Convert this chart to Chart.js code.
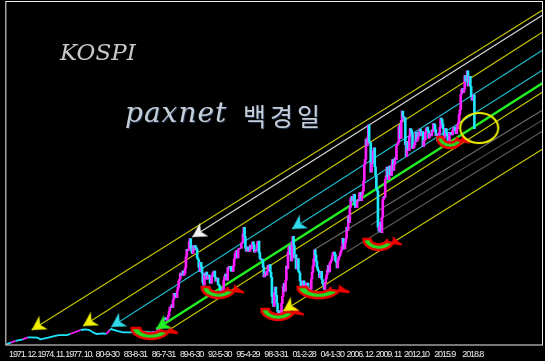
<!DOCTYPE html>
<html>
<head>
<meta charset="utf-8">
<script src="https://cdn.jsdelivr.net/npm/chart.js@4.4.0/dist/chart.umd.min.js"></script>
<style>
  html, body { margin: 0; padding: 0; background: #000; }
  #wrap { width: 545px; height: 361px; }
</style>
</head>
<body>
<div id="wrap"><canvas id="kospiChart"></canvas></div>
<script>
// early index (sparse)
const earlyDates = ['1970-04','1970-09','1971-03','1971-12','1972-06','1972-10','1973-06','1973-10','1974-02','1974-09',
  '1975-03','1975-09','1976-07','1976-11','1977-06','1977-12','1978-06','1978-11','1979-04','1979-08',
  '1980-04','1980-08','1980-12','1981-02','1981-09','1982-05','1983-05','1984-06','1984-12'];
const earlyClose = [28,40,58,71,90,90,87,71,77,90,102,111,111,121,142,158,164,158,133,121,127,121,158,167,149,136,136,142,140];

// monthly closes from 1985-01 to 2018-10
const monthlyStart = '1985-01';
const monthlyClose = [
  139,138,136,137,140,140,137,139,140,144,149,163,        // 1985
  160,165,188,212,220,236,256,264,270,253,250,272,        // 1986
  294,333,369,374,392,368,441,498,497,484,458,525,        // 1987
  557,616,633,687,668,679,708,666,684,735,838,907,        // 1988
  895,904,980,1007,922,883,867,942,903,943,923,909,       // 1989
  828,811,742,702,786,745,687,597,575,684,666,696,        // 1990
  630,660,669,659,594,594,653,680,699,706,650,611,        // 1991
  624,640,582,571,548,510,519,481,539,622,655,678,        // 1992
  659,622,737,734,749,747,708,702,702,755,818,866,        // 1993
  886,897,828,906,916,920,919,964,974,1051,1113,1027,     // 1994
  918,891,931,908,888,890,948,915,948,977,950,882,        // 1995
  888,903,901,978,984,877,823,809,818,802,742,651,        // 1996
  677,696,668,704,759,745,766,696,647,470,407,376,        // 1997
  506,558,481,407,331,297,339,310,310,406,470,562,        // 1998
  591,518,618,752,727,883,931,943,857,800,980,1028,       // 1999
  943,828,860,725,731,822,705,688,613,514,526,504,        // 2000
  615,583,523,577,594,595,541,545,479,537,633,693,        // 2001
  752,819,904,855,796,742,717,703,646,668,703,627,        // 2002
  591,575,535,599,634,670,717,759,697,778,796,810,        // 2003
  849,880,883,862,803,785,735,807,835,846,873,896,        // 2004
  932,1011,965,911,970,1008,1112,1084,1221,1158,1297,1379,      // 2005
  1399,1355,1357,1419,1317,1295,1297,1352,1371,1364,1432,1434,  // 2006
  1360,1417,1452,1542,1700,1744,1933,1873,1946,2064,1906,1897,  // 2007
  1624,1711,1704,1825,1852,1674,1594,1474,1448,1113,1076,1124,  // 2008
  1162,1063,1206,1369,1395,1390,1557,1591,1673,1580,1555,1682,  // 2009
  1602,1594,1692,1741,1641,1698,1759,1742,1872,1882,1904,2051,  // 2010
  2069,1939,2106,2192,2142,2100,2133,1880,1769,1909,1847,1825,  // 2011
  1955,2030,2014,1981,1843,1854,1880,1905,1996,1912,1932,1997,  // 2012
  1961,2026,2005,1963,2001,1863,1914,1926,1996,2030,2044,2011,  // 2013
  1941,1980,1985,1961,2017,2002,2076,2068,2020,1964,1981,1916,  // 2014
  1949,1985,2041,2127,2114,2074,2030,1941,1963,2029,1992,1961,  // 2015
  1912,1917,1996,1994,1983,1970,2016,2034,2043,2008,1983,2026,  // 2016
  2067,2091,2160,2205,2347,2392,2402,2363,2394,2523,2476,2467,  // 2017
  2566,2427,2445,2515,2423,2326,2295,2322,2343,2029             // 2018
];

const tickDates = ['1971-12','1974-11','1977-10','1980-09','1983-08','1986-07','1989-06','1992-05','1995-04',
  '1998-03','2001-02','2004-01','2006-12','2009-11','2012-10','2015-09','2018-08'];
const tickLabels = ['1971. 12.','1974. 11.','1977. 10.','80-9-30','83-8-31','86-7-31','89-6-30','92-5-30','95-4-29',
  '98-3-31','01-2-28','04-1-30','2006. 12.','2009. 11','2012,10','2015.9','2018.8'];

// parallel channel lines (start / end in date + index level)
const channelKinds = ['yellow','white','yellow','cyan','cyan','green','yellow','gray','gray2','gray3','yellow'];
const channelStartDates = ['1972-11','1989-07','1978-03','1981-02','1999-11','1985-10','1986-12','2002-02','2008-01','2005-07','1998-12'];
const channelStartLevels = [158,1022,195,186,1097,167,149,901,1134,883,334];
const channelEndDate = '2025-11';
const channelEndLevels = [3132,3085,2928,2760,2574,2454,2370,2203,2110,2007,1840];
const arrowChannels = [0,1,2,3,4,5,10];

// turning-point marks and the circle
const bowlDates = ['1985-08','1992-08','1998-10','2003-02','2009-03','2016-07'];
const bowlLevels = [130,511,307,511,957,1905];
const circleDates = ['2019-04'];
const circleLevels = [2035];

function toMonth(s) {
  const p = s.split('-').map(Number);
  return (p[0] - 1970) * 12 + (p[1] - 1);
}

const colors = {
  yellow: '#c8c800', white: '#dcdcdc', cyan: '#1cbcd0', green: '#22ee22',
  gray: '#6c6c6c', gray2: '#4c4c4c', gray3: '#5c5c5c'
};
const arrowColors = { yellow: '#f0f000', white: '#f4f4f4', cyan: '#30dcec', green: '#22f022' };

function makeArrow(col) {
  const cv = document.createElement('canvas');
  cv.width = 32; cv.height = 32;
  const g = cv.getContext('2d');
  g.fillStyle = col;
  g.beginPath();
  g.moveTo(16, 16);
  g.lineTo(30, 8);
  g.lineTo(26, 16);
  g.lineTo(30, 24);
  g.closePath();
  g.fill();
  return cv;
}

function makeBowl(w) {
  const h = 18;
  const cv = document.createElement('canvas');
  cv.width = w; cv.height = h;
  const g = cv.getContext('2d');
  const cx = w * 0.42, top = 4, rx = w * 0.38, ry = 11;
  g.beginPath();
  g.ellipse(cx, top, rx, ry, 0, Math.PI, 0, true);
  g.quadraticCurveTo(cx + rx + 4, top + 4, w - 2, top + 5);
  g.lineTo(cx + rx * 0.55, top + 3);
  g.ellipse(cx, top, rx * 0.55, ry * 0.5, 0, 0, Math.PI, false);
  g.closePath();
  g.fillStyle = '#22dd22';
  g.fill();
  g.lineWidth = 2.5;
  g.strokeStyle = '#ee0000';
  g.stroke();
  return cv;
}

function makeRing() {
  const cv = document.createElement('canvas');
  cv.width = 44; cv.height = 36;
  const g = cv.getContext('2d');
  g.strokeStyle = '#f0f000';
  g.lineWidth = 2;
  g.beginPath();
  g.ellipse(22, 18, 19, 15, 0, 0, Math.PI * 2);
  g.stroke();
  return cv;
}

const arrowImgs = {};
Object.keys(arrowColors).forEach(k => { arrowImgs[k] = makeArrow(arrowColors[k]); });
const bowlWidths = [50, 44, 44, 56, 40, 34];
const bowlImgs = bowlWidths.map(makeBowl);
const ringImg = makeRing();

const m0 = toMonth(monthlyStart);
const bodies = monthlyClose.map((c, i) => {
  const prev = i === 0 ? earlyClose[earlyClose.length - 1] : monthlyClose[i - 1];
  return { x: m0 + i, y: [prev, c] };
});

const datasets = [];

channelKinds.forEach((k, i) => {
  datasets.push({
    type: 'line',
    data: [
      { x: toMonth(channelStartDates[i]), y: channelStartLevels[i] },
      { x: toMonth(channelEndDate), y: channelEndLevels[i] }
    ],
    borderColor: colors[k],
    borderWidth: k === 'green' ? 2.5 : 1.1,
    pointRadius: 0,
    order: 5
  });
});

datasets.push({
  type: 'line',
  data: earlyDates.map((d, i) => ({ x: toMonth(d), y: earlyClose[i] })),
  borderColor: '#1ee6ff',
  borderWidth: 1.8,
  pointRadius: 0,
  segment: {
    borderColor: c => c.p1.parsed.y > c.p0.parsed.y + 15 ? '#ff1eff' : '#1ee6ff'
  },
  order: 3
});

datasets.push({
  type: 'bar',
  data: bodies,
  barThickness: 2,
  backgroundColor: c => {
    const r = c.raw;
    return r && r.y[1] >= r.y[0] ? '#ff1eff' : '#1ee6ff';
  },
  order: 3
});

datasets.push({
  type: 'scatter',
  data: bowlDates.map((d, i) => ({ x: toMonth(d), y: bowlLevels[i] })),
  pointStyle: c => bowlImgs[c.dataIndex],
  order: 2
});

datasets.push({
  type: 'scatter',
  data: arrowChannels.map(i => ({ x: toMonth(channelStartDates[i]), y: channelStartLevels[i] })),
  pointStyle: c => arrowImgs[channelKinds[arrowChannels[c.dataIndex]]],
  rotation: -32,
  order: 1
});

datasets.push({
  type: 'scatter',
  data: circleDates.map((d, i) => ({ x: toMonth(d), y: circleLevels[i] })),
  pointStyle: ringImg,
  order: 1
});

const backdrop = {
  id: 'backdrop',
  beforeDraw(chart) {
    const c = chart.ctx;
    c.fillStyle = '#000';
    c.fillRect(0, 0, chart.width, chart.height);
    // squeeze the tick labels like the original screenshot
    c.letterSpacing = '-1.1px';
  },
  afterDraw(chart) {
    const a = chart.chartArea;
    const c = chart.ctx;
    c.save();
    c.letterSpacing = '0px';
    c.strokeStyle = '#f0f0f0';
    c.lineWidth = 1;
    c.strokeRect(a.left - 0.5, a.top + 0.5, a.right - a.left, a.bottom - a.top - 0.5);

    c.fillStyle = '#c8c8c8';
    c.font = 'italic 23px "DejaVu Serif"';
    c.fillText('KOSPI', 60, 60);

    c.shadowColor = '#20304c';
    c.shadowOffsetX = 1;
    c.shadowOffsetY = 1;
    c.fillStyle = '#c6ced8';
    c.font = 'italic 28px "DejaVu Serif"';
    c.letterSpacing = '1px';
    c.fillText('paxnet', 125, 122);
    c.font = '25px "Noto Sans CJK KR"';
    c.letterSpacing = '4px';
    c.fillText('백경일', 243, 126);
    c.restore();
  }
};

new Chart(document.getElementById('kospiChart').getContext('2d'), {
  data: { datasets: datasets },
  options: {
    responsive: true,
    maintainAspectRatio: false,
    animation: false,
    layout: { autoPadding: false, padding: { left: 2, right: 2, top: 1, bottom: 0 } },
    plugins: { legend: { display: false }, tooltip: { enabled: false } },
    scales: {
      x: {
        type: 'linear',
        min: 2.47,
        max: 670.4,
        offset: false,
        grid: { display: false, drawTicks: false },
        border: { display: false },
        afterBuildTicks: s => { s.ticks = tickDates.map(d => ({ value: toMonth(d) })); },
        afterFit: s => { s.height = 16; },
        ticks: {
          autoSkip: false,
          maxRotation: 0,
          padding: 4,
          color: '#ececec',
          font: { size: 9, family: "'Liberation Sans', sans-serif" },
          callback: v => {
            const i = tickDates.findIndex(d => toMonth(d) === v);
            return i >= 0 ? tickLabels[i] : '';
          }
        }
      },
      y: { type: 'linear', display: false, min: 18.6, max: 3215.6 }
    }
  },
  plugins: [backdrop]
});
</script>
</body>
</html>
